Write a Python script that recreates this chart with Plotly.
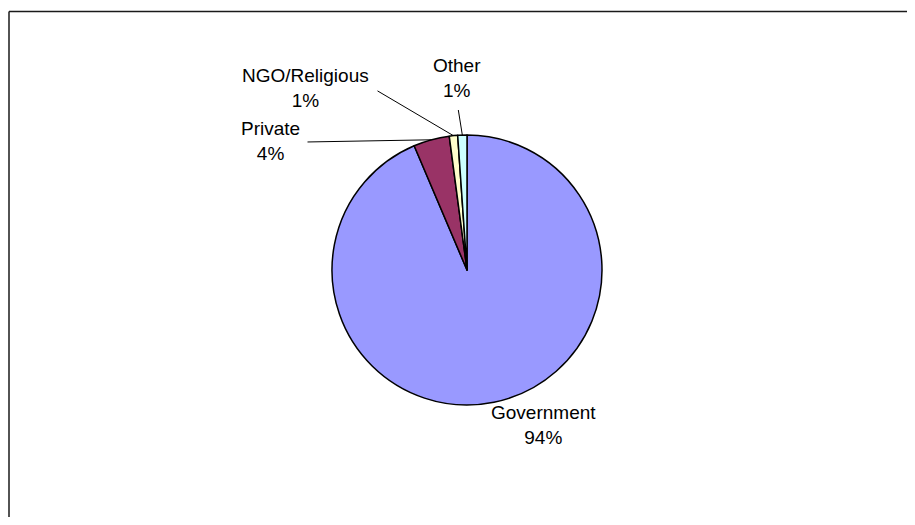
import math
import plotly.graph_objects as go

# ---- data ----
categories = ["Government", "Private", "NGO/Religious", "Other"]
values = [93.6, 4.3, 1.0, 1.1]
colors = ["#9999FF", "#993366", "#FFFFCC", "#CCFFFF"]

# the page body has an 8px margin, so the figure is drawn 8px in from the window edge
OFF = 8
W, H = 915 - OFF, 525 - 2 * OFF
CX, CY, R = 467 - OFF, 270 - OFF, 135  # pie centre / radius in figure pixels

FONT = dict(family="Liberation Sans, Arial", size=19, color="#000000")

fig = go.Figure()
fig.add_trace(go.Pie(
    labels=categories,
    values=values,
    sort=False,
    direction="clockwise",
    rotation=0,
    textinfo="none",
    hoverinfo="label+percent",
    marker=dict(colors=colors, line=dict(color="#000000", width=1.5)),
    domain=dict(x=[(CX - R) / W, (CX + R) / W], y=[1 - (CY + R) / H, 1 - (CY - R) / H]),
    showlegend=False,
))

total = sum(values)
pcts = [round(v / total * 100) for v in values]

# label block centres (window pixels) for each slice
label_pos = {
    "Government": (543, 425),
    "Private": (270, 141),
    "NGO/Religious": (305, 88),
    "Other": (457, 78),
}
# where each leader line starts (window pixels); None = no leader line
leader_start = {
    "Government": None,
    "Private": (306, 142),
    "NGO/Religious": (376, 90),
    "Other": (458, 108),
}

cum = 0.0
annotations = []
for cat, v, p in zip(categories, values, pcts):
    mid = (cum + v / 2) / total * 2 * math.pi
    cum += v
    ex = CX + R * math.sin(mid)
    ey = CY - R * math.cos(mid)
    tx, ty = label_pos[cat]
    tx, ty = tx - OFF, ty - OFF
    annotations.append(dict(
        x=tx / W, y=1 - ty / H, xref="paper", yref="paper",
        xanchor="center", yanchor="middle",
        text=f"{cat}<br>{p}%", showarrow=False, align="center", font=FONT,
    ))
    ls = leader_start[cat]
    if ls is not None:
        sx, sy = ls[0] - OFF, ls[1] - OFF
        annotations.append(dict(
            x=ex / W, y=1 - ey / H, xref="paper", yref="paper",
            ax=sx - ex, ay=sy - ey, axref="pixel", ayref="pixel",
            text=" ", font=dict(size=1), showarrow=True, arrowhead=0, arrowwidth=1,
            arrowcolor="#000000", standoff=0, startstandoff=0,
        ))

fig.update_layout(
    width=W, height=H,
    margin=dict(l=0, r=0, t=0, b=0),
    paper_bgcolor="#FFFFFF",
    plot_bgcolor="#FFFFFF",
    annotations=annotations,
    shapes=[
        dict(type="line", xref="paper", yref="paper", x0=1 / W, x1=1, y0=1 - 3.5 / H, y1=1 - 3.5 / H,
             line=dict(color="#1a1a1a", width=1.5)),
        dict(type="line", xref="paper", yref="paper", x0=1 / W, x1=1 / W, y0=0, y1=1 - 3.5 / H,
             line=dict(color="#1a1a1a", width=1.5)),
    ],
)

fig.write_html("out.html")
